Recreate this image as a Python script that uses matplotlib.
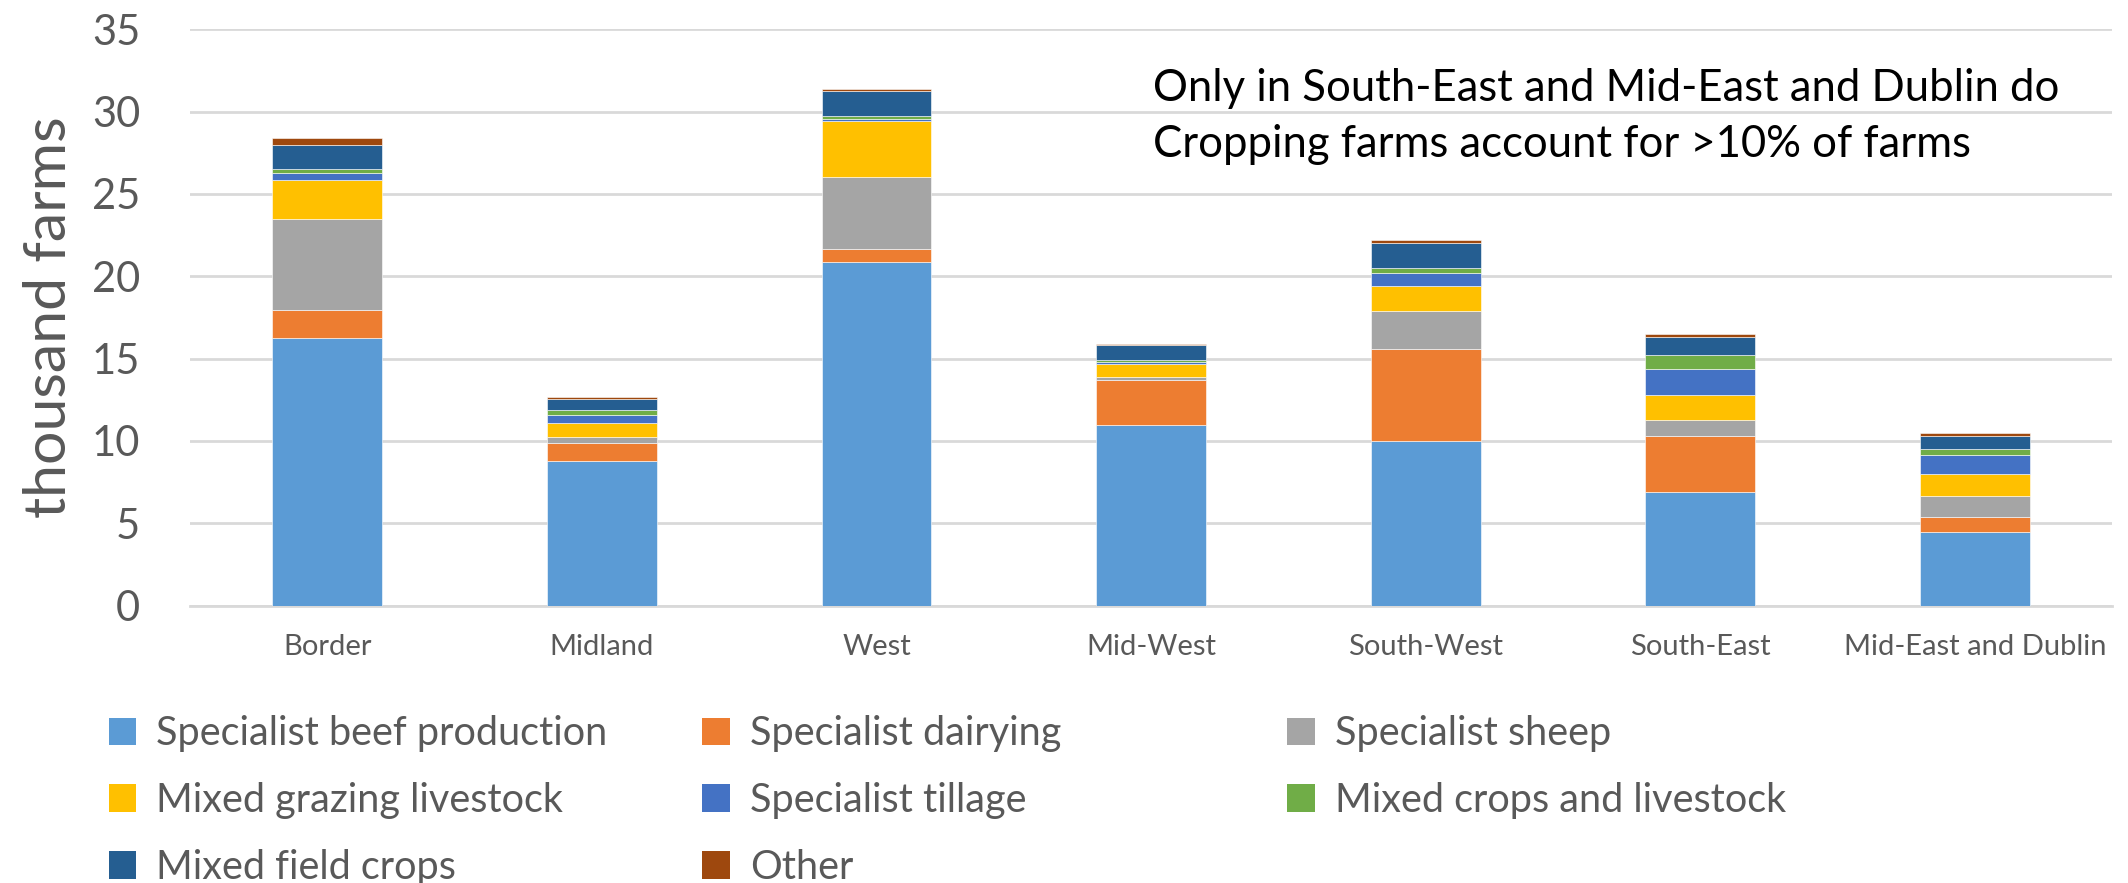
import numpy as np
import matplotlib
matplotlib.use("Agg")
import matplotlib.pyplot as plt
from matplotlib.patches import Patch

regions = ["Border", "Midland", "West", "Mid-West", "South-West", "South-East", "Mid-East and Dublin"]

# thousand farms per farm type, one value per region
beef       = [16.28, 8.80, 20.88, 10.99, 9.99, 6.88, 4.49]
dairy      = [1.70, 1.07, 0.77, 2.70, 5.61, 3.40, 0.89]
sheep      = [5.48, 0.40, 4.39, 0.18, 2.29, 1.01, 1.30]
grazing    = [2.41, 0.81, 3.41, 0.83, 1.50, 1.50, 1.34]
tillage    = [0.40, 0.51, 0.10, 0.12, 0.81, 1.60, 1.15]
mixed_crop = [0.22, 0.30, 0.15, 0.12, 0.30, 0.81, 0.32]
field_crop = [1.47, 0.67, 1.57, 0.87, 1.50, 1.09, 0.79]
other      = [0.41, 0.14, 0.12, 0.10, 0.20, 0.18, 0.18]

series = [
    ("Specialist beef production", beef, "#5B9BD5"),
    ("Specialist dairying", dairy, "#ED7D31"),
    ("Specialist sheep", sheep, "#A5A5A5"),
    ("Mixed grazing livestock", grazing, "#FFC000"),
    ("Specialist tillage", tillage, "#4472C4"),
    ("Mixed crops and livestock", mixed_crop, "#70AD47"),
    ("Mixed field crops", field_crop, "#255E91"),
    ("Other", other, "#9E480E"),
]

plt.rcParams['font.family'] = ['Lato', 'DejaVu Sans']
grey = "#595959"

fig = plt.figure(figsize=(21.28, 8.83), dpi=100)
ax = fig.add_axes([0.0893, 0.314, 0.9032, 0.653])

x = np.arange(len(regions))
bottom = np.zeros(len(regions))
for name, vals, col in series:
    ax.bar(x, vals, 0.4, bottom=bottom, color=col, edgecolor="white", linewidth=0.4, zorder=3)
    bottom += np.array(vals)

ax.set_xlim(-0.5, len(regions) - 0.5)
ax.set_ylim(0, 35)
ax.set_yticks(range(0, 36, 5))
ax.grid(axis="y", color="#D9D9D9", linewidth=2, zorder=0)
for s in ["top", "right", "left"]:
    ax.spines[s].set_visible(False)
ax.spines["bottom"].set_color("#D9D9D9")
ax.spines["bottom"].set_linewidth(2)
ax.tick_params(axis="y", length=0, pad=36, labelsize=30, labelcolor=grey)
ax.tick_params(axis="x", length=0, pad=20, labelsize=21, labelcolor=grey)
ax.set_xticks(x)
ax.set_xticklabels(regions)
ax.set_ylabel("thousand farms", fontsize=42.5, color=grey, labelpad=11)

ax.text(0.501, 0.932, "Only in South-East and Mid-East and Dublin do\nCropping farms account for >10% of farms",
        transform=ax.transAxes, fontsize=31.4, color="black", va="top", ha="left", linespacing=1.45)

# legend laid out row by row in three evenly spaced columns
handles = [Patch(facecolor=c, label=n) for n, _, c in series]
col_x = [0.051, 0.330, 0.605]
for ci in range(3):
    hs = handles[ci::3]
    fig.legend(handles=hs, loc="upper left", bbox_to_anchor=(col_x[ci], 0.19),
               frameon=False, fontsize=28.5, labelcolor=grey, handlelength=0.7,
               handleheight=0.7, handletextpad=0.5, labelspacing=0.75,
               borderaxespad=0, borderpad=0)

fig.savefig("out.png", dpi=100)
